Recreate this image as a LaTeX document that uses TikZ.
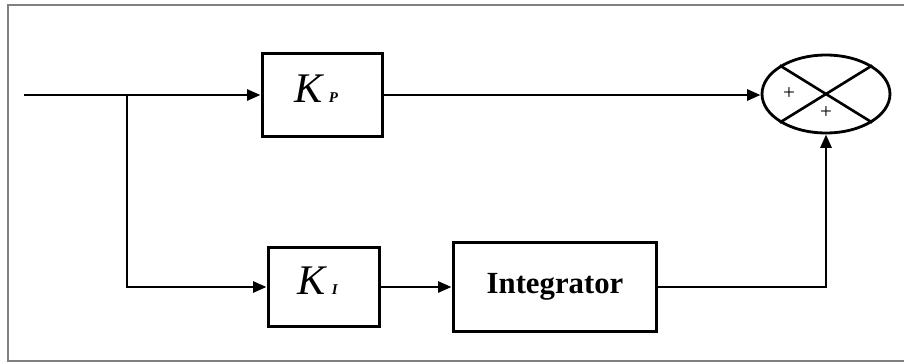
\documentclass[tikz,border=0pt]{standalone}
\usepackage{fontspec}
\setmainfont{Liberation Serif}
\usetikzlibrary{arrows.meta,shapes.geometric,positioning}

\tikzset{
  blockbox/.style={draw,line width=1.7pt,inner sep=0pt},
  sumnode/.style={draw,ellipse,line width=1.6pt,minimum width=2.56cm,minimum height=1.56cm,inner sep=0pt},
  sig/.style={line width=1.6pt,-{Triangle[length=2.7mm,width=2.2mm]}},
  wire/.style={line width=1.6pt}
}
\newcommand{\gainlabel}[1]{\hspace*{-2.5mm}\raisebox{2.4mm}{{\fontsize{24}{24}\selectfont\itshape K}\hspace{1.2mm}{\fontsize{8.5}{8.5}\selectfont\bfseries\itshape #1}}}

\begin{document}
\begin{tikzpicture}[x=0.02cm,y=0.02cm,line cap=butt]
\useasboundingbox (0,0) rectangle (904,363);
% outer frame (right side cut off)
\draw[gray,line width=1.2pt] (904,358) -- (8,358) -- (8,2) -- (904,2);

% blocks
\node[blockbox,minimum width=2.42cm,minimum height=1.66cm] (kp) at (322.5,268) {\gainlabel{P}};
\node[blockbox,minimum width=2.24cm,minimum height=1.58cm] (ki) at (324,76) {\gainlabel{I}};
\node[blockbox,minimum width=4.08cm,minimum height=1.78cm] (integ) at (555,76)
  {\fontsize{17.5}{17.5}\selectfont\bfseries Integrator};
\node[sumnode] (sum) at (826,269) {};
\draw[line width=1.5pt] (sum.north west) -- (sum.south east);
\draw[line width=1.5pt] (sum.south west) -- (sum.north east);
\node[font=\fontsize{12}{12}\selectfont] at ([xshift=-0.74cm]sum.center) {+};
\node[font=\fontsize{12}{12}\selectfont] at ([yshift=-0.38cm]sum.center) {+};

% signal paths
\coordinate (in) at (24,268);
\coordinate (split) at (127,268);
\draw[wire] (in) -- (split);
\draw[sig] (split) -- (kp.west);
\draw[sig] (split) |- (ki.west);
\draw[sig] (kp.east) -- (kp.east -| sum.west);
\draw[sig] (ki.east) -- (integ.west);
\draw[sig] (integ.east) -| (sum.south);
\end{tikzpicture}
\end{document}
